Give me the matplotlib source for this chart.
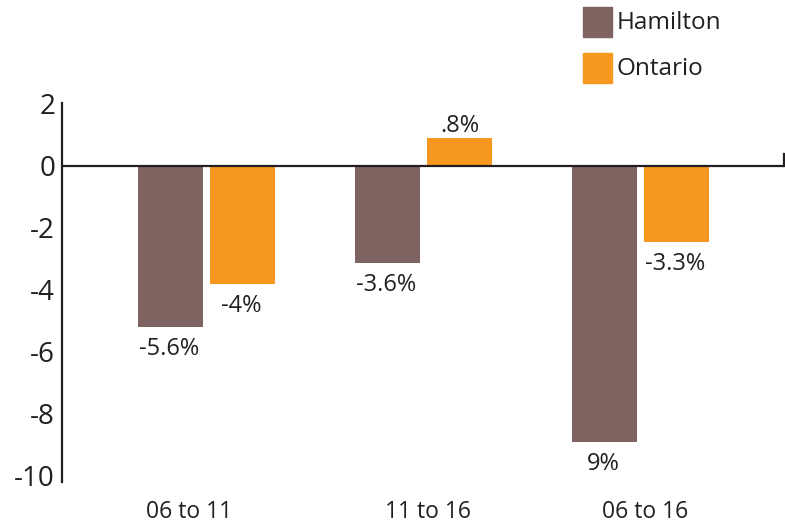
import numpy as np
import matplotlib.pyplot as plt
from matplotlib.patches import Rectangle

plt.rcParams['font.family'] = ['Open Sans', 'DejaVu Sans']

periods = ['06 to 11', '11 to 16', '06 to 16']
hamilton = [-5.19, -3.13, -8.9]
ontario = [-3.81, 0.90, -2.45]
hamilton_labels = ['-5.6%', '-3.6%', '9%']
ontario_labels = ['-4%', '.8%', '-3.3%']
yticks = [2, 0, -2, -4, -6, -8, -10]

brown = '#7e6360'
orange = '#f6981f'
ink = '#231f20'

fig = plt.figure(figsize=(7.85, 5.26), dpi=100)
ax = fig.add_axes([62 / 785, 44 / 526, 722 / 785, 379 / 526])

x = np.arange(len(periods))
w = 0.3
off = 0.166
b1 = ax.bar(x - off, hamilton, w, color=brown)
b2 = ax.bar(x + off, ontario, w, color=orange)

for bars, labels in [(b1, hamilton_labels), (b2, ontario_labels)]:
    for bar, lab in zip(bars, labels):
        h = bar.get_height()
        cx = bar.get_x() + bar.get_width() / 2
        if h < 0:
            ax.annotate(lab, (cx, h), xytext=(-1, -7.5), textcoords='offset points',
                        ha='center', va='top', fontsize=17, color=ink)
        else:
            ax.annotate(lab, (cx, h), xytext=(0, 0), textcoords='offset points',
                        ha='center', va='bottom', fontsize=17, color=ink)

ax.axhline(0, color=ink, lw=1.6, zorder=3)
# small upturn at the right end of the zero line
ax.plot([1, 1], [0, 0.38], transform=ax.get_yaxis_transform(), color=ink, lw=1.6,
        clip_on=False)

ax.set_xlim(-0.666, 2.661)
ax.set_ylim(-10.2, 2.03)
ax.set_yticks(yticks)
ax.set_yticklabels([str(v) for v in yticks], fontsize=20, color=ink)
ax.set_xticks([-0.08, 1.02, 2.02])
ax.set_xticklabels(periods, fontsize=16.5, color=ink)
ax.tick_params(axis='y', length=0, pad=5)
ax.tick_params(axis='x', length=0, pad=13)

for s in ['top', 'right', 'bottom']:
    ax.spines[s].set_visible(False)
ax.spines['left'].set_color(ink)
ax.spines['left'].set_linewidth(1.6)

# legend
for i, (name, col) in enumerate([('Hamilton', brown), ('Ontario', orange)]):
    y0 = 526 - 37 - i * 46
    fig.patches.append(Rectangle((583 / 785, y0 / 526), 29 / 785, 30 / 526,
                                 color=col, transform=fig.transFigure))
    fig.text(617 / 785, (y0 + 14) / 526, name, fontsize=17.5, color=ink, va='center')

fig.savefig('out.png', dpi=100)
